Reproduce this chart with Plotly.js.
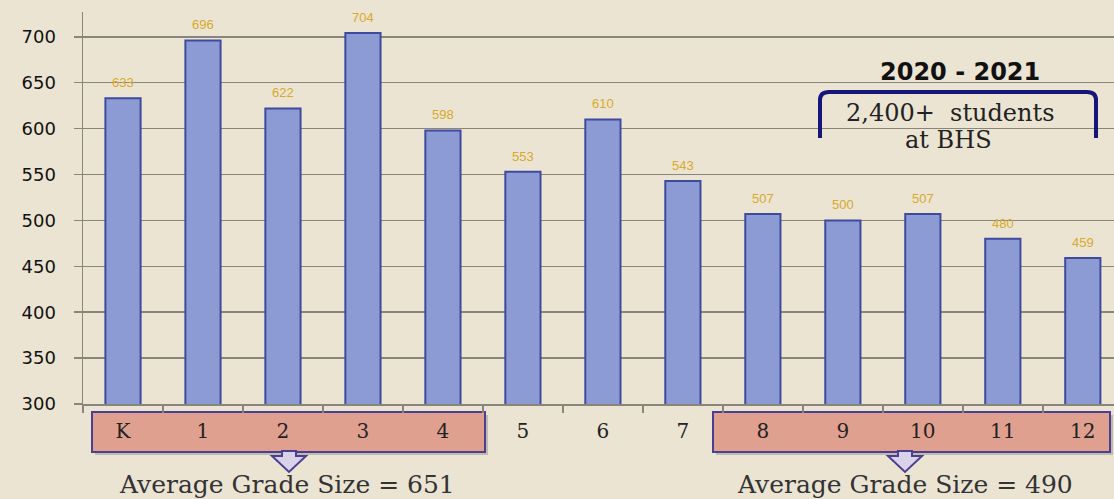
<!DOCTYPE html>
<html>
<head>
<meta charset="utf-8">
<script src="https://cdn.plot.ly/plotly-3.0.1.min.js"></script>
<style>html,body{margin:0;padding:0;background:#ECE4D3;}#chart{width:1114px;height:499px;}</style>
</head>
<body>
<div id="chart"></div>
<script>
const grades = ['K','1','2','3','4','5','6','7','8','9','10','11','12'];
const students = [633, 696, 622, 704, 598, 553, 610, 543, 507, 500, 507, 480, 459];
const yTicks = [300, 350, 400, 450, 500, 550, 600, 650, 700];
const titleText = '2020 - 2021';
const noteLines = ['2,400+  students', 'at BHS'];
const avgLow = 'Average Grade Size = 651';
const avgHigh = 'Average Grade Size = 490';

const W = 1114, H = 499, L = 83, T = 12, B = 95, R = 0;
const PW = W - L - R, PH = H - T - B;
const px = x => (x - L) / PW;
const py = y => (H - B - y) / PH;

const grid = '#8A857B';
const purple = '#4A3F90';
const navy = '#16157A';

function rect(x0, y0, x1, y1, opts) {
  return Object.assign({type: 'rect', xref: 'paper', yref: 'paper',
    x0: px(x0), x1: px(x1), y0: py(y1), y1: py(y0), layer: 'below'}, opts);
}
function arrow(cx) {
  const p = [[cx-7,451],[cx-7,456],[cx-17,456],[cx,472],[cx+17,456],[cx+7,456],[cx+7,451]];
  return {type: 'path', xref: 'paper', yref: 'paper', layer: 'below',
    path: 'M ' + p.map(q => px(q[0]).toFixed(5) + ',' + py(q[1]).toFixed(5)).join(' L ') + ' Z',
    fillcolor: '#D9D2E9', line: {color: purple, width: 2}};
}
function bracket() {
  const c = (x, y) => px(x).toFixed(5) + ',' + py(y).toFixed(5);
  return {type: 'path', xref: 'paper', yref: 'paper',
    path: 'M ' + c(820,138) + ' L ' + c(820,100) + ' Q ' + c(820,92) + ' ' + c(829,92) +
      ' L ' + c(1087,92) + ' Q ' + c(1096,92) + ' ' + c(1096,100) + ' L ' + c(1096,138),
    line: {color: navy, width: 4}};
}

const shapes = [
  rect(95, 415, 488, 455, {fillcolor: 'rgba(0,0,0,0.18)', line: {width: 0}}),
  rect(716, 415, 1113, 455, {fillcolor: 'rgba(0,0,0,0.18)', line: {width: 0}}),
  rect(92, 412, 485, 452, {fillcolor: '#E0A08F', line: {color: purple, width: 2}}),
  rect(713, 412, 1110, 452, {fillcolor: '#E0A08F', line: {color: purple, width: 2}}),
  arrow(289), arrow(905), bracket()
];

function note(x, y, text, font) {
  return {xref: 'paper', yref: 'paper', x: px(x), y: py(y), xanchor: 'center', yanchor: 'middle',
    text: text, showarrow: false, font: font};
}

const annotations = [
  note(287, 484, avgLow, {family: 'DejaVu Serif', size: 25, color: '#333333'}),
  note(905, 484, avgHigh, {family: 'DejaVu Serif', size: 25, color: '#333333'}),
  note(960, 72, '<b>' + titleText + '</b>', {family: 'DejaVu Sans', size: 24, color: '#111111'}),
  note(950, 113, noteLines[0], {family: 'DejaVu Serif', size: 24, color: '#222222'}),
  note(948, 140, noteLines[1], {family: 'DejaVu Serif', size: 24, color: '#222222'})
].concat(grades.map((g, i) => ({
  xref: 'x', yref: 'y', x: g, y: students[i], yanchor: 'bottom', yshift: 6,
  text: String(students[i]), showarrow: false,
  font: {family: 'Liberation Sans', size: 13, color: '#D6AA2A'}
})));

const trace = {
  type: 'bar', x: grades, y: students,
  marker: {color: '#8D9BD5', line: {color: '#3F4A9E', width: 2}},
  hoverinfo: 'x+y'
};

const layout = {
  width: W, height: H,
  margin: {l: L, r: R, t: T, b: B, pad: 0},
  paper_bgcolor: '#ECE4D3', plot_bgcolor: '#ECE4D3',
  showlegend: false, bargap: 0.56,
  xaxis: {type: 'category', range: [-0.5, 12.39], showline: true, linecolor: grid, linewidth: 1.5,
    ticks: 'outside', tickson: 'boundaries', ticklen: 7, tickcolor: grid, tickwidth: 1.5,
    showgrid: false, ticklabelstandoff: 8,
    tickfont: {family: 'DejaVu Serif', size: 20, color: '#222222'}},
  yaxis: {range: [300, 727], tickvals: yTicks, showline: true, linecolor: grid, linewidth: 1.5,
    gridcolor: grid, gridwidth: 1.5, zeroline: false,
    ticks: 'outside', ticklen: 8, tickcolor: grid, tickwidth: 1.5, ticklabelstandoff: 14,
    tickfont: {family: 'DejaVu Sans', size: 18, color: '#111111'}},
  shapes: shapes, annotations: annotations
};

Plotly.newPlot('chart', [trace], layout, {displayModeBar: false, staticPlot: true});
</script>
</body>
</html>
